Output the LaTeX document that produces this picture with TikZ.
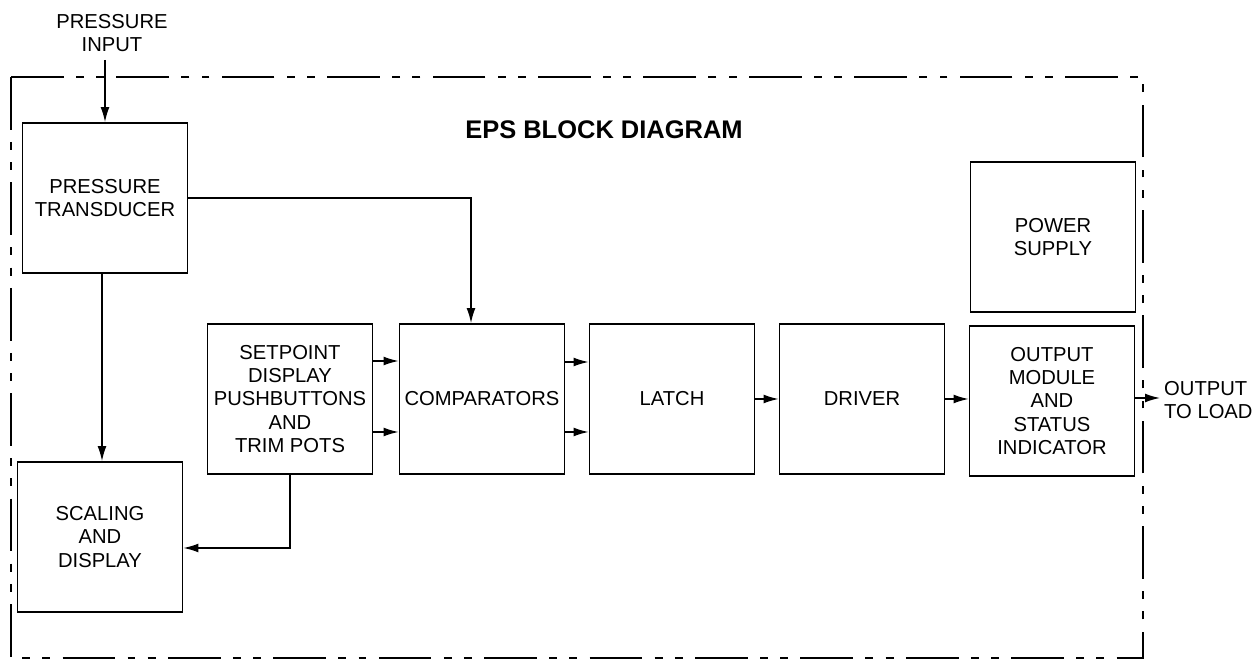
\documentclass[tikz,border=0pt]{standalone}
\usepackage{fontspec}
\setsansfont{Liberation Sans}
\usetikzlibrary{arrows.meta,positioning}

\begin{document}
\begin{tikzpicture}[x=0.02cm,y=-0.02cm,font=\sffamily\fontsize{11.5}{13.2}\selectfont,>={Latex[length=8.5pt,width=5pt]},
  blk/.style={draw,line width=1pt,minimum width=3.3cm,minimum height=3cm,inner sep=1pt,align=center},
  link/.style={line width=0.8pt,->},
  frame/.style={line width=1pt,dash pattern=on 30pt off 7pt on 4.5pt off 7pt on 4.5pt off 7pt}]
\useasboundingbox (0,0) rectangle (1255,661);
% enclosure
\draw[frame] (11,77) rectangle (1143,658);
\node[font=\sffamily\bfseries\fontsize{14.5}{16}\selectfont] (title) at (604,130) {EPS BLOCK DIAGRAM};
% blocks
\node[blk] (trans) at (105,198) {PRESSURE\\TRANSDUCER};
\node[blk] (scal) at (100,537) {SCALING\\AND\\DISPLAY};
\node[blk] (setp) at (290,399) {SETPOINT\\DISPLAY\\PUSHBUTTONS\\AND\\TRIM POTS};
\node[blk,inner sep=0pt] (comp) at (482,399) {COMPARATORS};
\node[blk] (latch) at (672,399) {LATCH};
\node[blk] (drv) at (862,399) {DRIVER};
\node[blk] (outm) at (1052,401) {OUTPUT\\MODULE\\AND\\STATUS\\INDICATOR};
\node[blk] (psu) at (1053,237) {POWER\\SUPPLY};
% in and out
\node[align=center] (inlbl) at (112,33) {PRESSURE\\INPUT};
\coordinate (inp) at (105,60);
\coordinate (load) at (1160,398);
\node[align=left,anchor=west] (outlbl) at (1158,400) {OUTPUT\\TO LOAD};
% signal paths
\draw[link] (inp) -- (inp |- trans.north);
\draw[link] (trans.east) -| ([xshift=-0.22cm]comp.north);
\draw[link] ([xshift=-0.06cm]trans.south) -- ([xshift=-0.06cm]trans.south |- scal.north);
\draw[link] ([yshift=0.76cm]setp.east) -- ([yshift=0.76cm]comp.west);
\draw[link] ([yshift=-0.66cm]setp.east) -- ([yshift=-0.66cm]comp.west);
\draw[link] ([yshift=0.74cm]comp.east) -- ([yshift=0.74cm]latch.west);
\draw[link] ([yshift=-0.66cm]comp.east) -- ([yshift=-0.66cm]latch.west);
\draw[link] (latch.east) -- (drv.west);
\draw[link] (drv.east) -- (drv.east -| outm.west);
\draw[link] (outm.east |- load) -- (load);
\draw[link] (setp.south) |- ([yshift=-0.22cm]scal.east);
\end{tikzpicture}
\end{document}
